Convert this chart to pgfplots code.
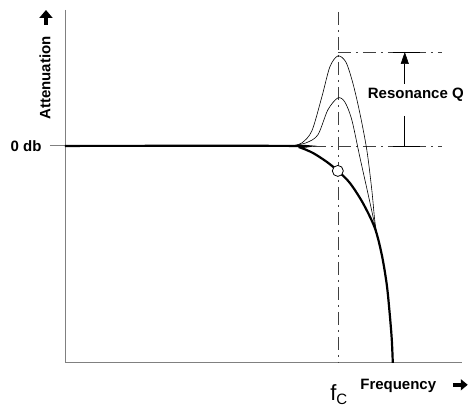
\documentclass[border=0pt]{standalone}
\usepackage{fontspec}
\setmainfont{Liberation Sans}
\usepackage{pgfplots}
\pgfplotsset{compat=1.18}
\usetikzlibrary{arrows.meta}

% gray for axes and guide lines
\definecolor{axgray}{gray}{0.5}
\definecolor{guide}{gray}{0.25}

\begin{document}
\begin{tikzpicture}
\begin{axis}[
    width=470pt, height=411pt,
    scale only axis,
    xmin=0, xmax=470, ymin=0, ymax=411,
    hide axis,
    clip=false,
]
% frame of the page
\path (axis cs:0,0) rectangle (axis cs:470,411);

% axes
\draw[axgray, line width=0.9pt] (axis cs:65,401) -- (axis cs:65,48) -- (axis cs:462,48);
\draw[axgray, line width=0.9pt] (axis cs:50,265) -- (axis cs:65,265);

% guide lines (dash-dot)
\begin{scope}[guide, line width=0.7pt, dash pattern=on 13pt off 5pt on 2pt off 5pt]
\draw (axis cs:339,399) -- (axis cs:339,48);
\draw (axis cs:338,359) -- (axis cs:442,359);
\draw (axis cs:313,265) -- (axis cs:442,265);
\end{scope}

% resonance Q arrow
\draw[line width=0.6pt] (axis cs:393,359) -- (axis cs:420,359);
\draw[line width=0.6pt] (axis cs:393,265) -- (axis cs:420,265);
\draw[line width=0.6pt, -{Triangle[width=8pt,length=12pt]}] (axis cs:405,327) -- (axis cs:405,359);
\draw[line width=0.6pt] (axis cs:405,295) -- (axis cs:405,265);
\node[font=\fontsize{15}{18}\selectfont\bfseries, anchor=center] at (axis cs:416,316) {Resonance Q};

% thin resonance curves
\addplot[black, line width=0.6pt, smooth] coordinates {
    (292,265) (302,268) (312,280) (322,314) (330,344) (338,355) (346,349)
    (353,328) (360,298) (367,261) (372,221) (375,190) (378,171)
};
\addplot[black, line width=0.6pt, smooth] coordinates {
    (292,265) (306,268) (318,276) (328,301) (338,313) (345,309) (352,291)
    (360,254) (368,218) (375,186) (378,171)
};

% main response
\addplot[black, line width=2.2pt, smooth] coordinates {
    (65,265) (292,265) (300,263.5) (313,258) (327,249) (338,240) (350,228)
    (363,208) (375,183) (382,156) (387,126) (390,96) (392,71) (393,48)
};
\addplot[only marks, mark=*, mark size=5.5pt, mark options={fill=white, draw=black, line width=0.8pt}]
    coordinates {(338,240)};

% labels
\node[font=\fontsize{15}{18}\selectfont\bfseries, anchor=east] at (axis cs:45,265) {0 db};
\node[font=\fontsize{15}{18}\selectfont\bfseries, rotate=90] at (axis cs:45,333) {Attenuation};
\draw[line width=4.5pt, -{Triangle[width=13pt,length=8pt]}] (axis cs:46,386) -- (axis cs:46,401);
\node[font=\fontsize{15}{18}\selectfont\bfseries, anchor=west] at (axis cs:357,25) {Frequency};
\draw[line width=4.5pt, -{Triangle[width=11pt,length=7pt]}] (axis cs:453,26) -- (axis cs:468,26);
\node[font=\fontsize{22}{26}\selectfont, anchor=center] at (axis cs:339,16) {f\raisebox{-0.35ex}{\fontsize{15}{18}\selectfont C}};
\end{axis}
\end{tikzpicture}
\end{document}
